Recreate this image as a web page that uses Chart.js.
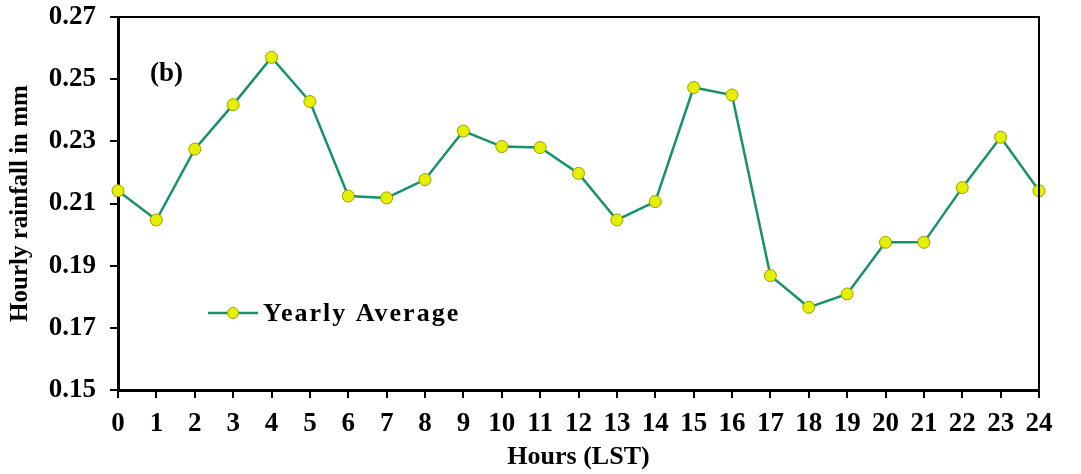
<!DOCTYPE html>
<html>
<head>
<meta charset="utf-8">
<script src="https://cdn.jsdelivr.net/npm/chart.js@4"></script>
<style>
  html, body { margin: 0; padding: 0; background: #fff; }
  #wrap { width: 1081px; height: 474px; }
</style>
</head>
<body>
<div id="wrap"><canvas id="myChart" width="1081" height="474"></canvas></div>
<script>
'use strict'
// data
const hours = ['0','1','2','3','4','5','6','7','8','9','10','11','12','13','14','15','16','17','18','19','20','21','22','23','24']
const yearlyAverage = [0.2141, 0.2047, 0.2275, 0.2418, 0.2570, 0.2428, 0.2124, 0.2118, 0.2177, 0.2333,
    0.2283, 0.2280, 0.2197, 0.2047, 0.2106, 0.2473, 0.2449, 0.1868, 0.1766, 0.1809,
    0.1975, 0.1975, 0.2151, 0.2313, 0.2141]
const yTicks = [0.15, 0.17, 0.19, 0.21, 0.23, 0.25, 0.27]
const seriesName = 'Yearly Average'
const panelLabel = '(b)'

const serif = "'Liberation Serif', 'Times New Roman', serif"
const lineColor = '#16926a'
const dotColor = '#e4f000'

// frame, legend and panel label
const extras = {
    id: 'extras',
    afterDatasetsDraw(chart) {
        const c = chart.ctx
        const a = chart.chartArea
        c.save()
        c.strokeStyle = '#000'
        c.lineWidth = 2
        c.beginPath()
        c.moveTo(a.left, a.top)
        c.lineTo(a.right, a.top)
        c.lineTo(a.right, a.bottom)
        c.stroke()

        c.fillStyle = '#000'
        c.font = 'bold 27px ' + serif
        c.textBaseline = 'middle'
        c.fillText(panelLabel, a.left + 32, a.top + 57)

        // legend
        let ly = a.top + 296
        let lx = a.left + 90
        c.strokeStyle = lineColor
        c.lineWidth = 2.5
        c.beginPath()
        c.moveTo(lx, ly)
        c.lineTo(lx + 50, ly)
        c.stroke()
        c.beginPath()
        c.arc(lx + 25, ly, 5.5, 0, Math.PI * 2)
        c.fillStyle = dotColor
        c.fill()
        c.strokeStyle = '#9aa000'
        c.lineWidth = 1
        c.stroke()
        c.fillStyle = '#000'
        c.font = 'bold 26px ' + serif
        c.letterSpacing = '2px'
        c.fillText(seriesName, lx + 55, ly + 1)
        c.restore()
    }
}

new Chart(document.getElementById('myChart'), {
    type: 'line',
    data: {
        labels: hours,
        datasets: [{
            label: seriesName,
            data: yearlyAverage,
            borderColor: lineColor,
            borderWidth: 2.5,
            pointRadius: 6,
            pointBackgroundColor: dotColor,
            pointBorderColor: '#9aa000',
            pointBorderWidth: 1,
            tension: 0,
        }],
    },
    options: {
        responsive: false,
        animation: false,
        layout: { padding: { left: 0, right: 42, top: 17, bottom: 0 } },
        plugins: { legend: { display: false }, tooltip: { enabled: false } },
        scales: {
            x: {
                offset: false,
                afterFit(scale) {
                    scale.height = 84
                    scale.paddingLeft = 0
                    scale.paddingRight = 0
                },
                grid: { drawOnChartArea: false, drawTicks: true, tickLength: 8, color: '#000', lineWidth: 2 },
                border: { display: true, color: '#000', width: 3 },
                ticks: { color: '#000', padding: 10, maxRotation: 0, autoSkip: false, font: { family: serif, size: 27, weight: 'bold' } },
                title: { display: true, text: 'Hours (LST)', color: '#000', padding: { top: 0, bottom: 1 }, font: { family: serif, size: 26, weight: 'bold' } },
            },
            y: {
                min: yTicks[0],
                max: yTicks[yTicks.length - 1],
                afterFit(scale) {
                    scale.width = 118
                    scale.paddingTop = 0
                    scale.paddingBottom = 0
                },
                afterBuildTicks(scale) { scale.ticks = yTicks.map(v => ({ value: v })) },
                grid: { drawOnChartArea: false, drawTicks: true, tickLength: 8, color: '#000', lineWidth: 2 },
                border: { display: true, color: '#000', width: 3 },
                ticks: { color: '#000', padding: 14, callback: v => v.toFixed(2), font: { family: serif, size: 27, weight: 'bold' } },
                title: { display: true, text: 'Hourly rainfall in mm', color: '#000', padding: { top: 6, bottom: 0 }, font: { family: serif, size: 25, weight: 'bold' } },
            },
        },
    },
    plugins: [extras],
})
</script>
</body>
</html>
